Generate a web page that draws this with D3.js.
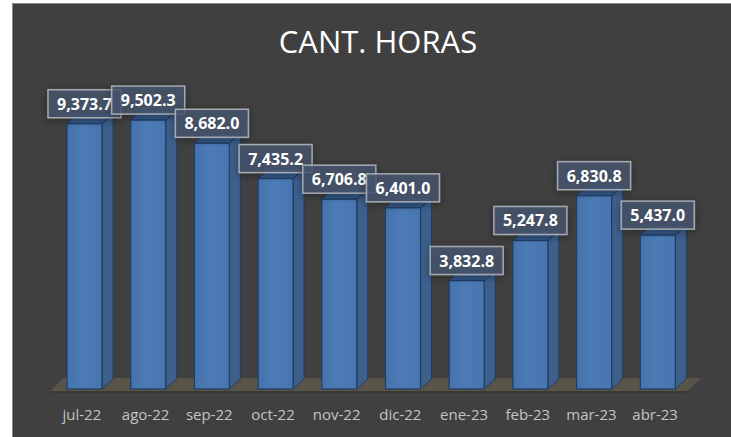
<!DOCTYPE html>
<html>
<head>
<meta charset="utf-8">
<script src="https://cdn.jsdelivr.net/npm/d3@7"></script>
<style>
  html, body { margin: 0; padding: 0; background: #ffffff; }
  svg { display: block; }
</style>
</head>
<body>
<svg id="chart" width="731" height="437"></svg>
<script>
// data
const months = ["jul-22", "ago-22", "sep-22", "oct-22", "nov-22", "dic-22", "ene-23", "feb-23", "mar-23", "abr-23"];
const horas = [9373.7, 9502.3, 8682.0, 7435.2, 6706.8, 6401.0, 3832.8, 5247.8, 6830.8, 5437.0];
const title = "CANT. HORAS";

const width = 731;
const height = 437;
const depthX = 11;   // 3d offset of the columns
const depthY = 10;

const svg = d3.select("#chart");
const defs = svg.append("defs");

// gradient on the front face, a bit lighter in the middle
const grad = defs.append("linearGradient").attr("id", "front").attr("x1", 0).attr("x2", 1);
grad.append("stop").attr("offset", "0%").attr("stop-color", "#4572ab");
grad.append("stop").attr("offset", "45%").attr("stop-color", "#4c7bb6");
grad.append("stop").attr("offset", "100%").attr("stop-color", "#4775af");

const shadow = defs.append("filter").attr("id", "shadow")
  .attr("x", "-30%").attr("y", "-30%").attr("width", "160%").attr("height", "160%");
shadow.append("feDropShadow").attr("dx", 0).attr("dy", 2).attr("stdDeviation", 4)
  .attr("flood-color", "#000").attr("flood-opacity", 0.4);

// chart area
svg.append("rect")
  .attr("x", 12.5).attr("y", 3.5)
  .attr("width", width - 12).attr("height", height - 3)
  .attr("fill", "#404040")
  .attr("stroke", "#8a8a8a").attr("stroke-width", 1);

svg.append("text")
  .attr("x", 378).attr("y", 53)
  .attr("text-anchor", "middle")
  .attr("font-family", "'Open Sans', sans-serif")
  .attr("font-size", 31)
  .attr("fill", "#ffffff")
  .text(title);

const x = d3.scaleBand().domain(months).range([50, 687]);
const y = d3.scaleLinear().domain([0, 10000]).range([389, 106]);

// floor
const floorFront = 391, floorBack = 378, floorShift = 14;
svg.append("path")
  .attr("d", `M${x.range()[0]},${floorFront} L${x.range()[1]},${floorFront} L${x.range()[1] + floorShift},${floorBack} L${x.range()[0] + floorShift},${floorBack} Z`)
  .attr("fill", "#595448");
svg.append("rect")
  .attr("x", x.range()[0]).attr("y", floorFront)
  .attr("width", x.range()[1] - x.range()[0]).attr("height", 2)
  .attr("fill", "#3a3833");

const barW = 35;
const barX = d => x(d) + 17;

const bars = svg.append("g").selectAll("g")
  .data(months.map((m, i) => ({ m, v: horas[i] })))
  .join("g");

// side face
bars.append("path")
  .attr("d", d => {
    const x0 = barX(d.m) + barW, yt = y(d.v), yb = y(0);
    return `M${x0},${yt} L${x0 + depthX},${yt - depthY} L${x0 + depthX},${yb - depthY} L${x0},${yb} Z`;
  })
  .attr("fill", "#3c5f8c")
  .attr("stroke", "#213d63").attr("stroke-width", 1).attr("stroke-linejoin", "round");

// top face
bars.append("path")
  .attr("d", d => {
    const x0 = barX(d.m), yt = y(d.v);
    return `M${x0},${yt} L${x0 + depthX},${yt - depthY} L${x0 + barW + depthX},${yt - depthY} L${x0 + barW},${yt} Z`;
  })
  .attr("fill", "#34598a")
  .attr("stroke", "#213d63").attr("stroke-width", 1).attr("stroke-linejoin", "round");

// front face
bars.append("rect")
  .attr("x", d => barX(d.m))
  .attr("y", d => y(d.v))
  .attr("width", barW)
  .attr("height", d => y(0) - y(d.v))
  .attr("fill", "url(#front)")
  .attr("stroke", "#213d63").attr("stroke-width", 1.2);

// category labels
svg.append("g").selectAll("text")
  .data(months)
  .join("text")
  .attr("x", d => x(d) + x.bandwidth() / 2)
  .attr("y", 420)
  .attr("text-anchor", "middle")
  .attr("font-family", "'Open Sans', sans-serif")
  .attr("font-size", 15)
  .attr("fill", "#c4c4c4")
  .text(d => d);

// data labels
const fmt = d3.format(",.1f");
const boxW = 73, boxH = 28;
const labels = svg.append("g").selectAll("g")
  .data(months.map((m, i) => ({ m, v: horas[i] })))
  .join("g")
  .attr("transform", d => `translate(${barX(d.m) + barW / 2 - boxW / 2},${y(d.v) - 6 - boxH})`);

labels.append("rect")
  .attr("width", boxW).attr("height", boxH)
  .attr("fill", "rgba(72,86,110,0.8)")
  .attr("stroke", "#a5a9b0").attr("stroke-width", 1.5)
  .attr("filter", "url(#shadow)");

labels.append("text")
  .attr("x", boxW / 2).attr("y", boxH / 2 + 6)
  .attr("text-anchor", "middle")
  .attr("font-family", "'Open Sans', sans-serif")
  .attr("font-weight", "bold")
  .attr("font-size", 16)
  .attr("fill", "#ffffff")
  .text(d => fmt(d.v));
</script>
</body>
</html>
